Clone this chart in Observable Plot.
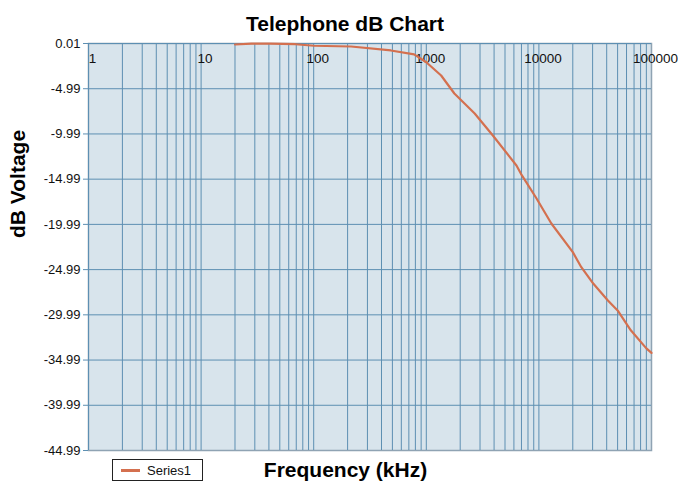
<!DOCTYPE html>
<html>
<head>
<meta charset="utf-8">
<script src="https://cdn.jsdelivr.net/npm/d3@7"></script>
<script src="https://cdn.jsdelivr.net/npm/@observablehq/plot@0.6"></script>
<style>
  html, body { margin: 0; padding: 0; background: #fff; }
  #wrap { position: relative; width: 678px; height: 482px; }
  #legend { position: absolute; left: 112px; top: 459px; width: 91px; height: 22px;
    border: 1px solid #222; background: #fff; font: 13px "Liberation Sans", Arial, sans-serif; color: #111;
    display: flex; align-items: center; box-sizing: border-box; }
  #legend .sw { width: 19px; height: 3px; background: #d4704f; margin-left: 8px; margin-right: 7px; }
</style>
</head>
<body>
<div id="wrap"><div id="chart"></div><div id="legend"><span class="sw"></span><span>Series1</span></div></div>
<script>
// Frequency (kHz) and dB voltage
const freq = [20, 28, 41.5, 69, 100, 215, 485, 780, 1000, 1355, 1775, 2690, 3900, 6320, 6930, 9500, 12900, 20000, 23800, 30500, 41000, 50000, 65500, 90000, 100000];
const dB   = [-0.1, 0, 0, -0.07, -0.24, -0.32, -0.76, -1.2, -2.06, -3.53, -5.52, -7.73, -10.16, -13.48, -14.4, -17.1, -19.89, -23.06, -24.72, -26.56, -28.4, -29.5, -31.7, -33.7, -34.2];
const xTickLabels = [1, 10, 100, 1000, 10000, 100000];
const yTickLabels = [0.01, -4.99, -9.99, -14.99, -19.99, -24.99, -29.99, -34.99, -39.99, -44.99];
const xGrid = [];
for (let e = 0; e < 5; e++) for (let m = 1; m <= 9; m++) xGrid.push(m * Math.pow(10, e));

const data = freq.map((f, i) => ({f, v: dB[i]}));

const chart = Plot.plot({
  width: 678,
  height: 482,
  marginTop: 43,
  marginLeft: 88,
  marginRight: 27,
  marginBottom: 32,
  style: {fontFamily: "'Liberation Sans', Arial, sans-serif", fontSize: "13px", background: "#fff", color: "#111"},
  x: {type: "log", domain: [1, 100000]},
  y: {domain: [-44.99, 0.01]},
  marks: [
    Plot.frame({fill: "#d8e4ec", stroke: null}),
    Plot.frame({stroke: "#8fa3b3", strokeWidth: 1.5}),
    Plot.ruleX(xGrid, {x: d => d, stroke: "#5d8fb2", strokeWidth: 1}),
    Plot.ruleY(yTickLabels.slice(0, -1), {y: d => d, stroke: "#5d8fb2", strokeWidth: 1}),
    Plot.axisY({ticks: yTickLabels, tickFormat: d => d.toFixed(2), tickSize: 5, tickPadding: 3, stroke: "#5d8fb2", label: null, fontSize: 13}),
    Plot.axisX({ticks: [], label: null, tickSize: 0}),
    Plot.text(xTickLabels, {x: d => d, frameAnchor: "top", lineAnchor: "top", dy: 10, dx: 4, text: d => String(d), fontSize: 13.5, fill: "#111"}),
    Plot.line(data, {x: "f", y: "v", stroke: "#d4704f", strokeWidth: 2.2, curve: "linear"}),
    Plot.text(["Telephone dB Chart"], {frameAnchor: "top", dx: -25, dy: -13, lineAnchor: "bottom", text: d => d, fontSize: 21, fontWeight: "bold", fill: "#000"}),
    Plot.text(["Frequency (kHz)"], {frameAnchor: "bottom", dx: -24.5, dy: 26, lineAnchor: "bottom", text: d => d, fontSize: 21, fontWeight: "bold", fill: "#000"}),
    Plot.text(["dB Voltage"], {frameAnchor: "left", dx: -70, dy: -9, rotate: -90, text: d => d, fontSize: 21, fontWeight: "bold", fill: "#000"})
  ]
});
document.getElementById("chart").appendChild(chart);
</script>
</body>
</html>
